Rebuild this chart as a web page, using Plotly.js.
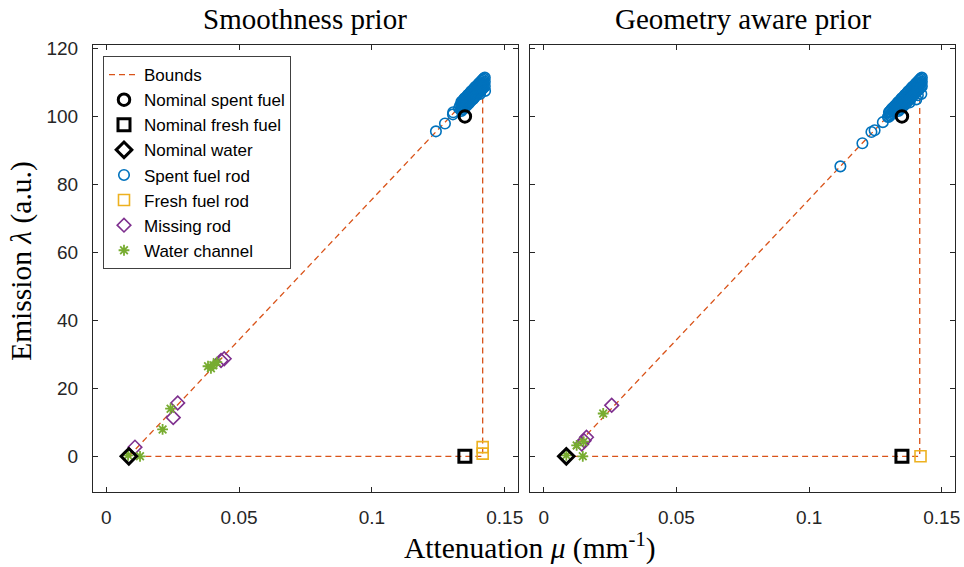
<!DOCTYPE html>
<html>
<head>
<meta charset="utf-8">
<script src="https://cdn.plot.ly/plotly-3.0.1.min.js"></script>
<style>html,body{margin:0;padding:0;background:#fff;}#chart{width:964px;height:567px;}</style>
</head>
<body>
<div id="chart"></div>
<script>
// ---------- data ----------
var boundsX = [0.0085, 0.1417, 0.1417, 0.0085];
var boundsY = [0, 110, 0, 0];

var nominalSpentX = [0.135];
var nominalSpentY = [100];
var nominalFreshX = [0.135];
var nominalFreshY = [0];
var nominalWaterX = [0.0085];
var nominalWaterY = [0];

// Smoothness prior (left panel) - spent fuel rods: isolated circles + dense band near the top
var leftSpentIsoX = [0.1241, 0.1275, 0.1305, 0.1306, 0.1328, 0.1332, 0.1382, 0.1407, 0.1415, 0.1426];
var leftSpentIsoY = [95.6, 97.9, 100.6, 101.2, 102.4, 103.2, 105.2, 106.6, 108.2, 107.5];
var bandX  = [0.1337, 0.1341, 0.1345, 0.1349, 0.1353, 0.1357, 0.1361, 0.1365, 0.1369, 0.1373, 0.1377, 0.1381,
              0.1385, 0.1389, 0.1393, 0.1397, 0.1401, 0.1405, 0.1409, 0.1413, 0.1417, 0.1421, 0.1425];
var bandYA = [104.3, 104.4, 104.9, 105.3, 105.5, 105.8, 106.3, 106.5, 106.8, 107.3, 107.5, 107.8,
              108.2, 108.6, 108.8, 109.1, 109.5, 109.8, 110.1, 110.5, 110.8, 111.1, 111.4];
var bandYB = [102.9, 103.3, 103.5, 103.9, 104.3, 104.5, 104.9, 105.2, 105.6, 105.9, 106.2, 106.6,
              106.8, 107.2, 107.6, 107.8, 108.2, 108.6, 108.8, 109.2, 109.5, 109.8, 110.2];
var bandYC = [101.6, 102.0, 102.2, 102.6, 103.0, 103.2, 103.6, 103.9, 104.3, 104.6, 104.9, 105.2,
              105.6, 105.9, 106.2, 106.6, 106.9, 107.2, 107.6, 107.9, 108.2, 108.6, 108.9];
var leftFreshX = [0.1417, 0.1417];
var leftFreshY = [2.7, 0.8];
var leftMissingX = [0.0108, 0.0252, 0.0269, 0.0432, 0.0444];
var leftMissingY = [2.7, 11.4, 15.7, 28.2, 28.7];
var leftWaterX = [0.0082, 0.0127, 0.0212, 0.0242, 0.0383, 0.0394, 0.0403, 0.0416];
var leftWaterY = [0.3, 0.0, 7.9, 14.0, 26.5, 25.9, 26.8, 27.7];

// Geometry aware prior (right panel)
var rightSpentIsoX = [0.1118, 0.1201, 0.1235, 0.1247, 0.1278, 0.1297, 0.1379, 0.1404, 0.1410, 0.1423];
var rightSpentIsoY = [85.3, 92.1, 95.4, 95.9, 98.3, 99.8, 104.1, 105.0, 106.2, 106.6];
var rightBandLowX  = [0.1301, 0.1305, 0.1309, 0.1313, 0.1317, 0.1321, 0.1325, 0.1329, 0.1333];
var rightBandLowYA = [101.2, 101.5, 101.9, 102.3, 102.5, 102.9, 103.2, 103.5, 103.9];
var rightBandLowYB = [99.9, 100.3, 100.6, 100.9, 101.3, 101.6, 101.9, 102.3, 102.6];
var rightFreshX = [0.1420];
var rightFreshY = [0];
var rightMissingX = [0.0143, 0.0152, 0.0161, 0.0256];
var rightMissingY = [3.6, 4.6, 5.6, 15.0];
var rightWaterX = [0.0085, 0.0147, 0.0124, 0.0150, 0.0224];
var rightWaterY = [0.3, 0.0, 3.2, 4.3, 12.6];

var xTickVals = [0, 0.05, 0.1, 0.15];
var xTickText = ['0', '0.05', '0.1', '0.15'];
var yTickVals = [0, 20, 40, 60, 80, 100, 120];
var yTickText = ['0', '20', '40', '60', '80', '100', '120'];

// assemble spent fuel series from the lists above
var leftSpentX = [].concat(leftSpentIsoX, bandX, bandX, bandX);
var leftSpentY = [].concat(leftSpentIsoY, bandYA, bandYB, bandYC);
var rightSpentX = [].concat(rightSpentIsoX, rightBandLowX, rightBandLowX, bandX, bandX, bandX);
var rightSpentY = [].concat(rightSpentIsoY, rightBandLowYA, rightBandLowYB, bandYA, bandYB, bandYC);

// ---------- styles ----------
var cBlue = '#0072BD', cOrange = '#D95319', cYellow = '#EDB120', cPurple = '#7E2F8E', cGreen = '#77AC30';
var sans = 'Liberation Sans, Arial, Helvetica, sans-serif';
var serif = 'Liberation Serif, Times New Roman, serif';

function traces(xa, ya, spentX, spentY, freshX, freshY, missX, missY, waterX, waterY, show) {
  return [
    {x: boundsX, y: boundsY, xaxis: xa, yaxis: ya, mode: 'lines', name: 'Bounds', legendrank: 1, showlegend: show,
     line: {color: cOrange, width: 1.3, dash: '6px,4px'}, hoverinfo: 'skip'},
    {x: spentX, y: spentY, xaxis: xa, yaxis: ya, mode: 'markers', name: 'Spent fuel rod', legendrank: 5, showlegend: show,
     marker: {symbol: 'circle-open', size: 10.5, color: cBlue, line: {width: 1.6, color: cBlue}}},
    {x: freshX, y: freshY, xaxis: xa, yaxis: ya, mode: 'markers', name: 'Fresh fuel rod', legendrank: 6, showlegend: show,
     marker: {symbol: 'square-open', size: 11, color: cYellow, line: {width: 1.6, color: cYellow}}},
    {x: missX, y: missY, xaxis: xa, yaxis: ya, mode: 'markers', name: 'Missing rod', legendrank: 7, showlegend: show,
     marker: {symbol: 'diamond-open', size: 10.5, color: cPurple, line: {width: 1.6, color: cPurple}}},
    {x: waterX, y: waterY, xaxis: xa, yaxis: ya, mode: 'markers', name: 'Water channel', legendrank: 8, showlegend: show,
     marker: {symbol: 'asterisk-open', size: 9, color: cGreen, line: {width: 1.8, color: cGreen}}},
    {x: nominalSpentX, y: nominalSpentY, xaxis: xa, yaxis: ya, mode: 'markers', name: 'Nominal spent fuel', legendrank: 2, showlegend: show,
     marker: {symbol: 'circle-open', size: 11.5, color: '#000', line: {width: 3, color: '#000'}}},
    {x: nominalFreshX, y: nominalFreshY, xaxis: xa, yaxis: ya, mode: 'markers', name: 'Nominal fresh fuel', legendrank: 3, showlegend: show,
     marker: {symbol: 'square-open', size: 12, color: '#000', line: {width: 3, color: '#000'}}},
    {x: nominalWaterX, y: nominalWaterY, xaxis: xa, yaxis: ya, mode: 'markers', name: 'Nominal water', legendrank: 4, showlegend: show,
     marker: {symbol: 'diamond-open', size: 12, color: '#000', line: {width: 3, color: '#000'}}}
  ];
}

var data = [].concat(
  traces('x', 'y', leftSpentX, leftSpentY, leftFreshX, leftFreshY, leftMissingX, leftMissingY, leftWaterX, leftWaterY, true),
  traces('x2', 'y2', rightSpentX, rightSpentY, rightFreshX, rightFreshY, rightMissingX, rightMissingY, rightWaterX, rightWaterY, false)
);

function xAxis(domain, anchor) {
  return {domain: domain, anchor: anchor, range: [-0.005, 0.155], tickvals: xTickVals, ticktext: xTickText,
    showline: true, linecolor: '#262626', linewidth: 1, mirror: 'ticks', ticks: 'inside', ticklen: 5,
    tickcolor: '#262626', tickwidth: 1, showgrid: false, zeroline: false, ticklabelstandoff: 8,
    tickfont: {family: sans, size: 19, color: '#262626'}};
}
function yAxis(anchor, labels) {
  return {domain: [0, 1], anchor: anchor, range: [-10.5, 121], tickvals: yTickVals, ticktext: yTickText,
    showticklabels: labels, showline: true, linecolor: '#262626', linewidth: 1, mirror: 'ticks', ticks: 'inside',
    ticklen: 5, tickcolor: '#262626', tickwidth: 1, showgrid: false, zeroline: false, ticklabelstandoff: 10,
    tickfont: {family: sans, size: 19, color: '#262626'}};
}

var layout = {
  width: 964, height: 567,
  margin: {l: 93, r: 9, t: 45, b: 75, pad: 0},
  paper_bgcolor: '#fff', plot_bgcolor: '#fff',
  xaxis: xAxis([0, 0.49304], 'y'),
  xaxis2: xAxis([0.50754, 1], 'y2'),
  yaxis: yAxis('x', true),
  yaxis2: yAxis('x2', false),
  showlegend: true,
  legend: {x: 0.0116, y: 0.9754, xanchor: 'left', yanchor: 'top', bgcolor: '#fff', bordercolor: '#404040',
    borderwidth: 1, font: {family: sans, size: 17, color: '#000'}, tracegroupgap: 0},
  annotations: [
    {text: 'Smoothness prior', xref: 'paper', yref: 'paper', x: 0.2465, y: 1.058, xanchor: 'center', yanchor: 'middle',
     showarrow: false, font: {family: serif, size: 29, color: '#000'}},
    {text: 'Geometry aware prior', xref: 'paper', yref: 'paper', x: 0.754, y: 1.058, xanchor: 'center', yanchor: 'middle',
     showarrow: false, font: {family: serif, size: 29, color: '#000'}},
    {text: 'Attenuation <i>μ</i> (mm<sup>-1</sup>)', xref: 'paper', yref: 'paper', x: 0.507, y: -0.123,
     xanchor: 'center', yanchor: 'middle', showarrow: false, font: {family: serif, size: 29.5, color: '#000'}},
    {text: 'Emission <i>λ</i> (a.u.)', xref: 'paper', yref: 'paper', x: -0.0824, y: 0.517, textangle: -90,
     xanchor: 'center', yanchor: 'middle', showarrow: false, font: {family: serif, size: 29.5, color: '#000'}}
  ]
};

Plotly.newPlot('chart', data, layout, {displayModeBar: false, staticPlot: true});
</script>
</body>
</html>
